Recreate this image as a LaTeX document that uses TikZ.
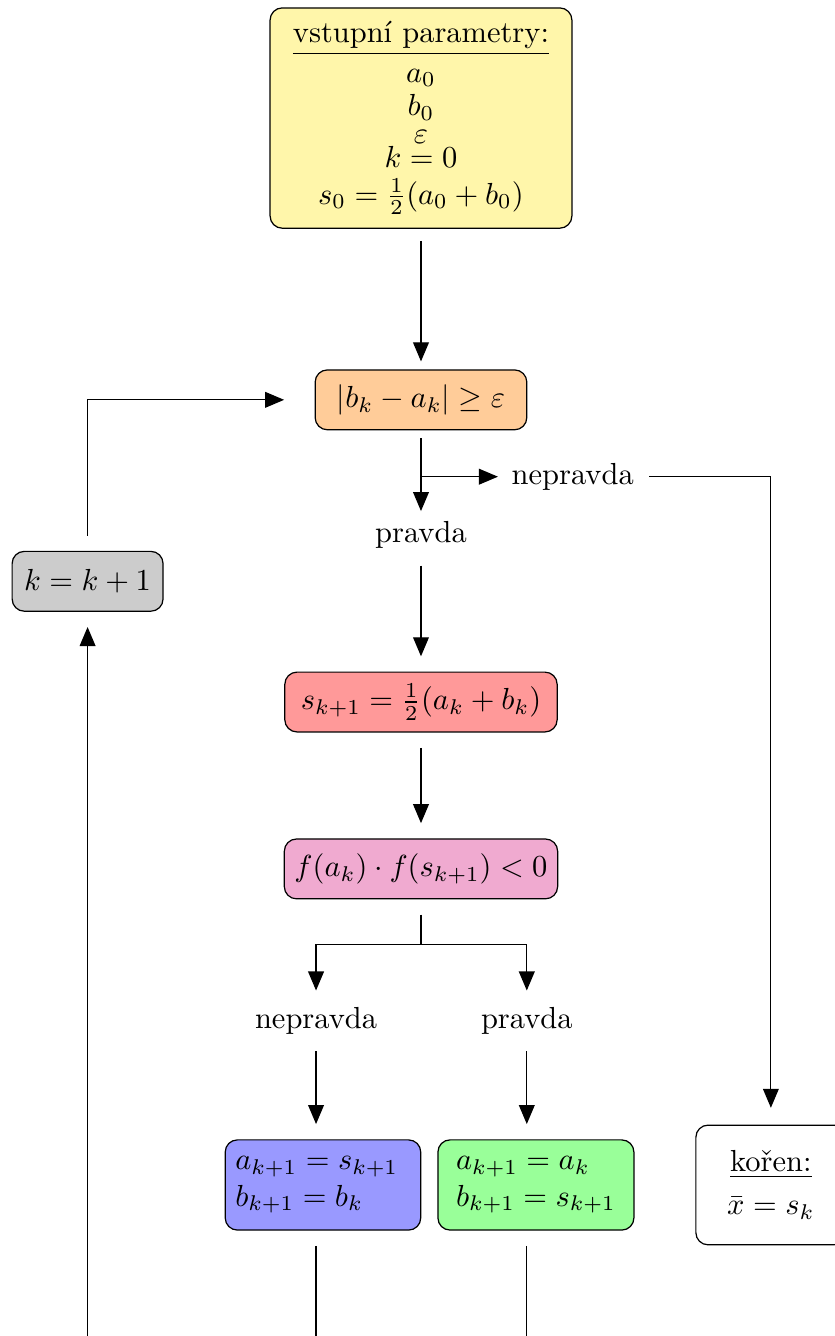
\documentclass[tikz,border=0pt]{standalone}
\usepackage{amsmath}
\usepackage{amssymb}
\usepackage{tikz}
\usetikzlibrary{positioning}
\usetikzlibrary{arrows}
\definecolor{paramyellow}{RGB}{255,246,170}
\definecolor{condpink}{RGB}{240,170,208}
\tikzset{
flow_box/.style={rectangle, rounded corners, draw, align=center, minimum height=0.69cm},
branch_label/.style={rectangle, inner sep=3.33pt},
flow_line/.style={draw, -triangle 45},
plain_line/.style={draw}
}

\begin{document}
\begin{tikzpicture}
    \useasboundingbox (-4.854,1.361) rectangle (4.773,-14.043);
    \coordinate (bottom_edge) at (0,-14.043);
    \node[flow_box, fill=paramyellow, minimum width=3.48cm, minimum height=2.54cm] (params) at (0,0) {\underline{vstupní parametry:}\\[1pt] $a_0$\\[-1pt] $b_0$\\[-3pt] $\varepsilon$\\[-4pt] $k = 0$\\ $s_0 = \frac{1}{2}(a_0 + b_0)$};
    \node[flow_box, fill=orange!40, minimum width=2.44cm] (cond_1) [below=1.62cm of params] {$|b_k - a_k| \geq \varepsilon$};
    \node[branch_label] (true_1) [below=0.93cm of cond_1] {pravda};
    \node[branch_label, anchor=north west] (false_1) [below right=0.254cm and 0.922cm of cond_1.south] {nepravda};
    \node[flow_box, fill=red!40, minimum width=3.14cm] (mid_1) [below=1.29cm of true_1] {$s_{k+1} = \frac{1}{2}(a_k + b_k)$};
    \node[flow_box, fill=condpink, minimum width=3.14cm] (cond_2) [below=1.22cm of mid_1] {$f(a_k) \cdot f(s_{k+1}) < 0$};
    \coordinate[below=0.52cm of cond_2] (split_2);
    \node[branch_label] (false_2) [below=1.12cm of cond_2, xshift=-1.21cm] {nepravda};
    \node[branch_label] (true_2) [below=1.12cm of cond_2, xshift=1.22cm] {pravda};
    \node[flow_box, fill=blue!40, text width=2.02cm, minimum height=1.04cm, align=left] (update_a) [below=1.085cm of false_2, xshift=0.08cm] {$a_{k+1} = s_{k+1}$\\ $b_{k+1} = b_k$};
    \node[flow_box, fill=green!40, minimum width=2.26cm, minimum height=1.04cm, align=left] (update_b) [right=0.184cm of update_a] {$a_{k+1} = a_k$\\ $b_{k+1} = s_{k+1}$};
    \node[flow_box, fill=white, minimum width=1.73cm, minimum height=1.38cm] (root) [right=0.70cm of update_b] {\underline{kořen:}\\[2pt] $\bar{x} = s_k$};
    \node[flow_box, fill=black!20, minimum width=1.74cm, anchor=north east] (incr) [below left=1.74cm and 1.74cm of cond_1.west] {$k = k + 1$};

    \draw[flow_line, shorten <=4pt, shorten >=2.6pt] (params) -- (cond_1);
    \draw[flow_line, shorten <=2.6pt] (cond_1) -- (true_1);
    \draw[flow_line, shorten >=1pt] (cond_1.south |- false_1.west) -- (false_1);
    \draw[flow_line, shorten <=2pt, shorten >=5pt] (true_1) -- (mid_1);
    \draw[flow_line, shorten <=5pt, shorten >=5pt] (mid_1) -- (cond_2);
    \draw[plain_line, shorten <=5pt] (cond_2) -- (split_2);
    \draw[flow_line, shorten >=2pt] (split_2) -| (false_2);
    \draw[flow_line, shorten >=2pt] (split_2) -| (true_2);
    \draw[flow_line, shorten <=2pt, shorten >=5pt] (false_2) -- (false_2 |- update_a.north);
    \draw[flow_line, shorten <=2pt, shorten >=5pt] (true_2) -- (true_2 |- update_b.north);
    \draw[plain_line, shorten <=5pt] (false_2 |- update_a.south) -- (false_2 |- bottom_edge);
    \draw[plain_line, shorten <=5pt] (true_2 |- update_b.south) -- (true_2 |- bottom_edge);
    \draw[flow_line, shorten >=5pt] (incr |- bottom_edge) -- (incr);
    \draw[flow_line, shorten <=5pt, shorten >=10pt] (incr) |- (cond_1);
    \draw[flow_line, shorten <=1.6pt, shorten >=5.5pt] (false_1) -| (root);
\end{tikzpicture}
\end{document}
